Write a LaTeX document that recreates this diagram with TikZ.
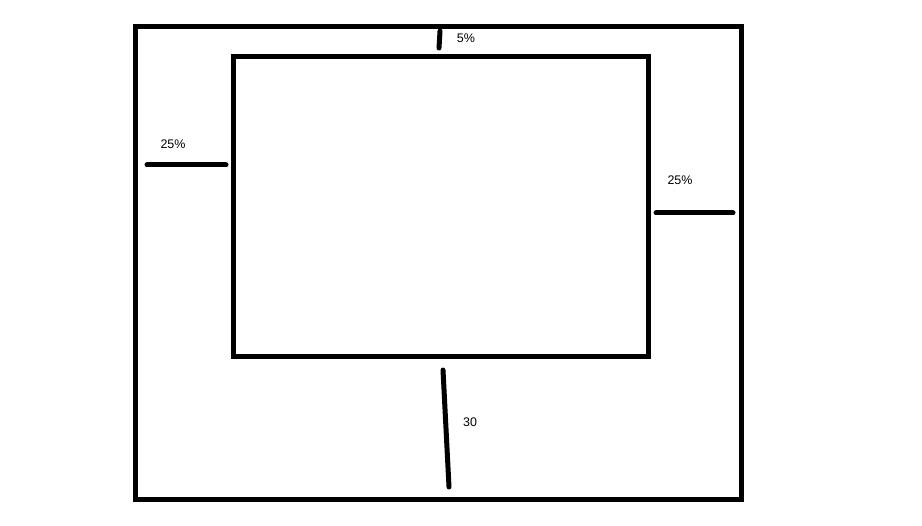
\documentclass[tikz,border=0pt]{standalone}
\usepackage{fontspec}
\setmainfont{Liberation Sans}
\usepackage{tikz}
\usetikzlibrary{positioning, calc}

\begin{document}
\begin{tikzpicture}[x=0.02cm, y=-0.02cm,
    frame/.style={line width=5*0.02cm, black},
    gap/.style={line width=5*0.02cm, black, line cap=round},
    pct/.style={font=\fontsize{7.1}{8}\selectfont, inner sep=0pt}]
  \useasboundingbox (0,0) rectangle (922,526);

  % Outer and inner frames
  \draw[frame] (135.5,26.5) rectangle (741,499);
  \draw[frame] (233.5,56.5) rectangle (648,357);

  % Margin marks
  \coordinate (T1) at (440,31);
  \coordinate (T2) at (439,48);
  \coordinate (L1) at (147,165);
  \coordinate (L2) at (226,165);
  \coordinate (R1) at (656,213);
  \coordinate (R2) at (733,213);
  \coordinate (B1) at (443,370);
  \coordinate (B2) at (449,487);

  \draw[gap] (T1) -- (T2);
  \draw[gap] (L1) -- (L2);
  \draw[gap] (R1) -- (R2);
  \draw[gap] (B1) -- (B2);

  % Labels
  \node[pct] (top) at (466,38) {5\%};
  \node[pct] (left) at (173,144) {25\%};
  \node[pct] (right) at (680,180) {25\%};
  \node[pct] (bottom) at (470,422) {30};
\end{tikzpicture}
\end{document}
